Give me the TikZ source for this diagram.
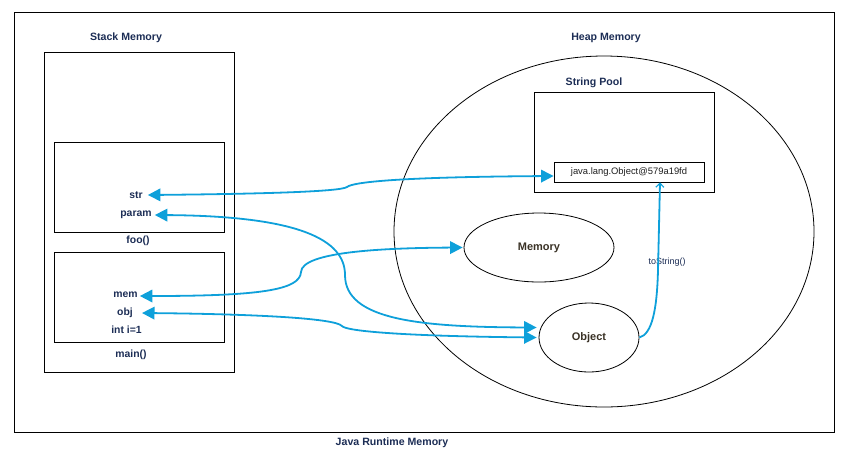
\documentclass[tikz,border=0pt]{standalone}
\usepackage{fontspec}
\setmainfont{Liberation Sans}
\usetikzlibrary{shapes.geometric,arrows.meta,calc}
\definecolor{arrowc}{RGB}{14,160,218}
\definecolor{navy}{RGB}{28,45,85}
\definecolor{brn}{RGB}{58,50,38}
\begin{document}
\begin{tikzpicture}[x=1pt,y=-1pt,
  box/.style={draw,line width=0.8pt,inner sep=0pt,rectangle},
  oval/.style={draw,line width=0.8pt,inner sep=0pt,ellipse},
  title/.style={font=\fontsize{10.6}{12}\selectfont\bfseries,text=navy,inner sep=0pt},
  var/.style={font=\fontsize{10.4}{12}\selectfont\bfseries,text=navy,inner sep=0pt},
  objtxt/.style={font=\fontsize{11}{13}\selectfont\bfseries,text=brn,inner sep=0pt},
  link/.style={draw=arrowc,line width=1.8pt,
    {Triangle[length=12.5pt,width=12.5pt]}-{Triangle[length=12.5pt,width=12.5pt]}},
  single/.style={draw=arrowc,line width=1.8pt,-{Straight Barb[length=4pt,width=8pt,line width=1.2pt]}}
]
\useasboundingbox (0,0) rectangle (845,448);
% frames
\node[box,minimum width=820pt,minimum height=420pt] (outer) at (424,222) {};
\node[title] (jrm) at (392,443) {Java Runtime Memory};
\node[box,minimum width=190pt,minimum height=320pt] (stack) at (139,212) {};
\node[title] (stacklbl) at (126,38) {Stack Memory};
\node[box,minimum width=170pt,minimum height=90pt] (foo) at (139,187) {};
\node[var] (foolbl) at (138,241) {foo()};
\node[box,minimum width=170pt,minimum height=90pt] (main) at (139,297) {};
\node[var] (mainlbl) at (131,355) {main()};
% variables
\node[var] (str) at (136,195) {str};
\node[var] (param) at (136,215) {param};
\node[var] (mem) at (125.5,295) {mem};
\node[var] (obj) at (125,313) {obj};
\node[var] (inti) at (126.5,330) {int i=1};
% heap
\node[oval,minimum width=420pt,minimum height=351pt] (heap) at (604,231.5) {};
\node[title] (heaplbl) at (606,38) {Heap Memory};
\node[box,minimum width=180pt,minimum height=100pt] (pool) at (624,142) {};
\node[title] (poollbl) at (594,83) {String Pool};
\node[box,minimum width=150pt,minimum height=20pt,font=\fontsize{9.4}{11}\selectfont,text={rgb,255:red,30;green,30;blue,30}] (strobj) at (629,172) {java.lang.Object@579a19fd};
\node[oval,minimum width=150pt,minimum height=69pt,objtxt] (memory) at (539,247.5) {Memory};
\node[oval,minimum width=100pt,minimum height=69pt,objtxt] (object) at (589,337.5) {Object};
\node[font=\fontsize{9}{11}\selectfont,text=navy,inner sep=0pt] (tostr) at (667,262) {toString()};
% connectors
\draw[link] ($(str.east)+(5,0)$) .. controls (250,194) and (340,192) .. (347,187)
  .. controls (353,182) and (400,177) .. ($(strobj.west)+(0,4)$);
\draw[link] ($(param.east)+(3,0)$) .. controls (300,216) and (345,240) .. (345,275)
  .. controls (345,320) and (420,327) .. ($(object.west)+(-2,-10)$);
\draw[link] ($(mem.east)+(2,1)$) .. controls (260,296) and (300,290) .. (301,272)
  .. controls (302,252) and (380,248) .. ($(memory.west)+(-1,0)$);
\draw[link] ($(obj.east)+(9,0)$) .. controls (250,314) and (335,318) .. (342,326)
  .. controls (346,331) and (400,336) .. ($(object.west)+(-2,0)$);
\draw[single] (object.east) .. controls (652,334) and (657,310) .. (658,270) -- (strobj.south -| 660,0);
\end{tikzpicture}
\end{document}
